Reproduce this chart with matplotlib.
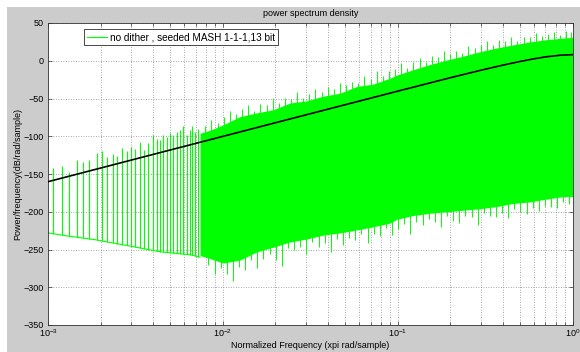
import numpy as np
import matplotlib

matplotlib.use("Agg")
import matplotlib.pyplot as plt
from matplotlib.patches import Rectangle
from matplotlib.ticker import LogLocator, MultipleLocator, NullFormatter

GREEN = "#00ff00"
FIGGRAY = "#cccccc"
GRIDC = "#8a8a8a"

plt.rcParams["font.family"] = ["Liberation Sans", "DejaVu Sans"]
plt.rcParams["font.size"] = 6.5

# ---- data -----------------------------------------------------------------
# black reference curve (noise-shaping slope of the MASH)
ref_f = [1e-3, 2e-3, 5e-3, 1e-2, 2e-2, 5e-2, 0.1, 0.2, 0.3, 0.4, 0.5, 0.6, 0.7, 0.85, 1.0]
ref_db = [-160.2, -142.1, -118.2, -100.2, -82.1, -58.3, -40.3, -22.5, -12.5, -5.8,
          -1.0, 2.5, 5.1, 7.3, 8.1]

# low-frequency noise floor between the tones
floor_f = [1.0e-3, 1.28e-3, 1.86e-3, 3.03e-3, 4.38e-3, 6.5e-3, 7.4e-3]
floor_db = [-228, -232, -237, -246, -253, -257, -260]

# discrete tones (spurs) below ~1e-2
spike_f = [1.07e-3, 1.20e-3, 1.32e-3, 1.47e-3, 1.59e-3, 1.72e-3, 1.90e-3, 2.03e-3,
           2.18e-3, 2.36e-3, 2.47e-3, 2.64e-3, 2.82e-3, 2.98e-3, 3.15e-3, 3.36e-3,
           3.56e-3, 3.75e-3, 3.97e-3, 4.19e-3, 4.37e-3, 4.57e-3, 4.78e-3, 4.99e-3,
           5.20e-3, 5.45e-3, 5.70e-3, 5.95e-3, 6.20e-3, 6.45e-3, 6.70e-3, 6.95e-3,
           7.20e-3]
spike_top = [-142, -140, -148, -131, -134, -131, -122, -120,
             -127, -123, -126, -115, -119, -114, -117, -107,
             -118, -109, -98, -103, -105, -98, -101, -96,
             -98, -94, -92, -87, -98, -92, -87, -95,
             -90]

# dense noise band: body of the band (lower / upper edge)
dense_f = [7.41e-3, 8.45e-3, 1.003e-2, 1.254e-2, 1.569e-2, 1.937e-2, 2.424e-2, 3.032e-2,
           3.742e-2, 4.683e-2, 5.858e-2, 7.23e-2, 9.05e-2, 9.88e-2, 0.1225, 0.1532,
           0.1917, 0.2366, 0.296, 0.3703, 0.4573, 0.572, 0.7155, 0.8835, 1.0]
dense_hi = [-96, -92, -85, -74, -69, -65, -56, -53,
            -47, -43, -34, -31, -23, -19, -12, -5,
            1, 6, 12, 17, 21, 25, 28, 30, 31]
dense_lo = [-258, -262, -268, -264, -253, -247, -240, -236,
            -231, -228, -224, -220, -215, -210, -205, -202,
            -200, -198, -196, -193, -189, -187, -183, -180, -180]

# ragged spikes sticking out of the band
peak_f = [7.94e-3, 8.61e-3, 9.33e-3, 1.012e-2, 1.096e-2, 1.189e-2, 1.288e-2, 1.396e-2,
          1.514e-2, 1.641e-2, 1.778e-2, 1.928e-2, 2.089e-2, 2.265e-2, 2.455e-2, 2.661e-2,
          2.884e-2, 3.126e-2, 3.388e-2, 3.673e-2, 3.981e-2, 4.315e-2, 4.677e-2, 5.070e-2,
          5.495e-2, 5.957e-2, 6.457e-2, 6.998e-2, 7.586e-2, 8.222e-2, 8.913e-2, 9.661e-2,
          0.1047, 0.1135, 0.1230, 0.1334, 0.1445, 0.1567, 0.1698, 0.1841,
          0.1995, 0.2163, 0.2344, 0.2541, 0.2754, 0.2985, 0.3236, 0.3508,
          0.3802, 0.4121, 0.4467, 0.4842, 0.5248, 0.5689, 0.6166, 0.6683,
          0.7244, 0.7852, 0.8511, 0.9226, 0.977]
peak_db = [-87, -79, -83, -75, -66, -71, -64, -59,
           -66, -57, -58, -49, -56, -49, -50, -42,
           -49, -44, -37, -41, -35, -38, -29, -32,
           -28, -30, -20, -24, -14, -20, -13, -11,
           -3, -9, -2, 3, -1, 6, 4.5, 13.5,
           9.5, 13.5, 10.5, 19.5, 16.5, 20.5, 26.5, 21,
           27, 26.5, 31, 26.5, 31.5, 31, 37, 32.5,
           35.5, 38.5, 34.5, 39, 38]
dip_f = [8.27e-3, 8.97e-3, 9.72e-3, 1.053e-2, 1.142e-2, 1.238e-2, 1.341e-2, 1.454e-2,
         1.576e-2, 1.708e-2, 1.852e-2, 2.007e-2, 2.176e-2, 2.358e-2, 2.556e-2, 2.770e-2,
         3.003e-2, 3.255e-2, 3.528e-2, 3.824e-2, 4.145e-2, 4.493e-2, 4.870e-2, 5.278e-2,
         5.721e-2, 6.202e-2, 6.722e-2, 7.286e-2, 7.898e-2, 8.560e-2, 9.279e-2, 0.1006,
         0.1090, 0.1182, 0.1281, 0.1388, 0.1505, 0.1631, 0.1768, 0.1916,
         0.2077, 0.2252, 0.2441, 0.2645, 0.2867, 0.3108, 0.3369, 0.3652,
         0.3958, 0.4290, 0.4650, 0.5041, 0.5464, 0.5922, 0.6419, 0.6958,
         0.7542, 0.8176, 0.8861, 0.9605]
dip_db = [-270, -282, -274, -282, -292, -273, -277, -264,
          -275, -263, -256, -264, -272, -248, -251, -247,
          -256, -240, -247, -242, -253, -236, -244, -235,
          -237, -230, -242, -229, -232, -222, -231, -223,
          -216, -229, -214, -218, -209, -213, -220, -206,
          -212, -215, -206, -207, -218, -202, -206, -207,
          -201, -208, -196, -200, -203, -195.5, -199.5, -192.5,
          -194, -194.5, -187.5, -189.5]

# ---- figure ----------------------------------------------------------------
W, H = 580, 352
fig = plt.figure(figsize=(W / 100, H / 100), dpi=100, facecolor="white")
fig.patches.append(Rectangle((7 / W, 0), 1 - 7 / W, 1 - 7 / H, transform=fig.transFigure,
                             facecolor=FIGGRAY, edgecolor="none", zorder=-10))
ax = fig.add_axes([48 / W, 1 - 325 / H, (572.5 - 48) / W, (325 - 23) / H])
ax.set_zorder(1)
ax.set_facecolor("white")

ax.fill_between(dense_f, dense_lo, dense_hi, color=GREEN, lw=0, zorder=2)
ax.vlines(peak_f, -150, peak_db, color=GREEN, lw=0.7, zorder=2)
ax.vlines(dip_f, dip_db, -150, color=GREEN, lw=0.7, zorder=2)
base = np.interp(np.log10(spike_f), np.log10(floor_f), floor_db)
ax.vlines(spike_f, base, spike_top, color=GREEN, lw=0.8, zorder=2)
ax.plot(floor_f, floor_db, color=GREEN, lw=0.8, zorder=2,
        label="no dither , seeded MASH 1-1-1,13 bit")
ax.plot(ref_f, ref_db, color="black", lw=1.2, zorder=3)

ax.set_xscale("log")
ax.set_xlim(1e-3, 1)
ax.set_ylim(-350, 50)
ax.yaxis.set_major_locator(MultipleLocator(50))
ax.xaxis.set_major_locator(LogLocator(base=10))
ax.xaxis.set_minor_locator(LogLocator(base=10, subs=np.arange(2, 10)))
ax.xaxis.set_minor_formatter(NullFormatter())

ax.set_axisbelow(True)
ax.grid(which="both", axis="x", color=GRIDC, lw=0.6, ls=(0, (1, 2)))
ax.grid(which="major", axis="y", color=GRIDC, lw=0.6, ls=(0, (1, 2)))
ax.tick_params(which="both", direction="in", top=True, right=True, labelsize=6.5,
               width=0.5, colors="#333333", labelcolor="black")
ax.tick_params(which="major", length=3, pad=3)
ax.tick_params(which="minor", length=2)
ax.tick_params(axis="x", which="major", pad=2)
for s in ax.spines.values():
    s.set_linewidth(0.6)
    s.set_color("#333333")

ax.set_title("power spectrum density", fontsize=6.5, pad=5)
fig.text(18 / W, 1 - 174 / H, "Power/frequency(dB/rad/sample)", rotation=90,
         ha="center", va="center", fontsize=6.5)
fig.text(310 / W, 1 - 345 / H, "Normalized Frequency (xpi rad/sample)",
         ha="center", va="center", fontsize=6.5)

leg = ax.legend(loc="upper left", bbox_to_anchor=((84 - 48) / 524.5, (325 - 29) / 302),
                borderaxespad=0, fancybox=False, framealpha=1, edgecolor="black",
                fontsize=7.2, handlelength=2.0, handletextpad=0.3, borderpad=0.3)
leg.get_frame().set_linewidth(0.5)

fig.savefig("out.png", dpi=100, facecolor="white")
